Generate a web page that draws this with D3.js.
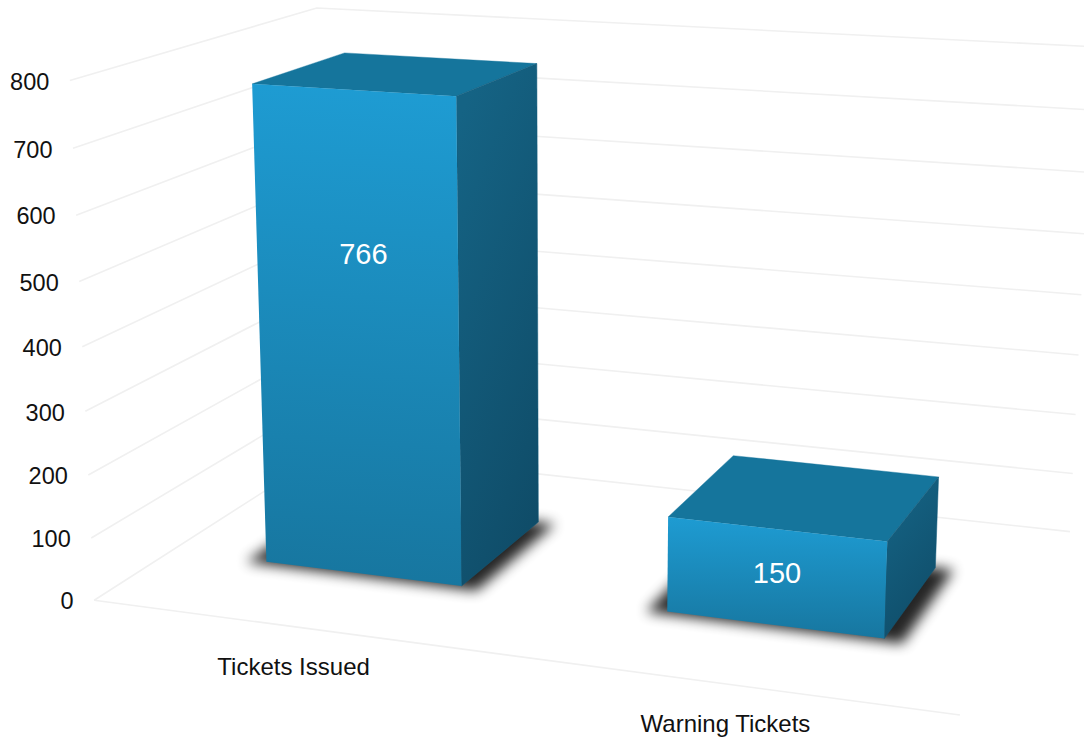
<!DOCTYPE html><html><head><meta charset="utf-8"><script src="https://cdn.jsdelivr.net/npm/d3@7"></script>
<style>html,body{margin:0;background:#fff}svg{display:block}text{font-family:"Liberation Sans",Arial,sans-serif}</style></head><body><div id="chart"></div><script>
const categories=["Tickets Issued","Warning Tickets"];
const values=[766,150];
const tickValues=[0,100,200,300,400,500,600,700,800];
const labelLevels=[515,82];
const labelBandShare=[.536,.508];

// Pinhole camera: (band position, height share, depth, 1) -> screen
const camera=[
 [763.742548,-27.721254,292.395085,94.174476],
 [38.816035,-523.658943,-67.443878,600.224438],
 [-0.106285,-0.048404,0.181384,1]];

const W=1084,H=742;
const svg=d3.select("#chart").append("svg").attr("width",W).attr("height",H);
const u=d3.scaleBand().domain(categories).range([0,1]).paddingInner(.5).paddingOuter(.25);
const v=d3.scaleLinear().domain([0,800]).range([0,1]);
const depth={front:.3,back:.7};
const project=(a,val,c)=>{const q=camera.map(r=>r[0]*a+r[1]*v(val)+r[2]*c+r[3]);return [q[0]/q[2],q[1]/q[2]];};
const line=d3.line();
const defs=svg.append("defs");
const grad=(id,x1,y1,x2,y2,c1,c2)=>{const g=defs.append("linearGradient").attr("id",id).attr("x1",x1).attr("y1",y1).attr("x2",x2).attr("y2",y2);
 g.append("stop").attr("offset",0).attr("stop-color",c1);g.append("stop").attr("offset",1).attr("stop-color",c2);};
grad("front",.5,0,.47,1,"#1e9cd3","#17769f");
grad("side",.3,0,.7,1,"#156384","#0f4c68");
defs.append("filter").attr("id","blur").attr("x","-30%").attr("y","-60%").attr("width","160%").attr("height","220%").append("feGaussianBlur").attr("stdDeviation",6.5);

// grid
const grid=svg.append("g").attr("fill","none").attr("stroke","#f0f0f0").attr("stroke-width",1.6);
tickValues.forEach(t=>grid.append("path").attr("d",line([project(0,t,0),project(0,t,1),project(1,t,1)])));
grid.append("path").attr("d",line([project(0,0,0),project(1,0,0)]));
// ticks
svg.append("g").attr("font-size",23.5).attr("fill","#111").attr("text-anchor","end").selectAll("text").data(tickValues).join("text")
 .attr("x",d=>project(0,d,0)[0]-20.5).attr("y",d=>project(0,d,0)[1]+9.2).text(d=>d);
// categories
svg.append("g").attr("font-size",24).attr("fill","#111").attr("text-anchor","middle").selectAll("text").data(categories).join("text")
 .attr("x",d=>project(u(d)+u.bandwidth()/2,0,0)[0]+.7).attr("y",d=>project(u(d)+u.bandwidth()/2,0,0)[1]+48.3).text(d=>d);
// bars
categories.forEach((cat,i)=>{
 const a=u(cat),e=a+u.bandwidth(),f=depth.front,k=depth.back,h=values[i];
 const poly=pts=>line(pts)+"Z";
 svg.append("path").attr("d",poly([project(a-.022,0,f-.014),project(e+.022,0,f-.014),project(e+.022,0,k),project(a-.022,0,k)])).attr("fill","#000").attr("opacity",.85).attr("filter","url(#blur)");
 svg.append("path").attr("d",poly([project(a,h,f),project(a,h,k),project(e,h,k),project(e,h,f)])).attr("fill","#15759c").attr("stroke","#15759c").attr("stroke-width",.4);
 svg.append("path").attr("d",poly([project(e,h,f),project(e,h,k),project(e,0,k),project(e,0,f)])).attr("fill","url(#side)").attr("stroke","#125a7a").attr("stroke-width",.5);
 svg.append("path").attr("d",poly([project(a,h,f),project(e,h,f),project(e,0,f),project(a,0,f)])).attr("fill","url(#front)");
 const c=project(a+labelBandShare[i]*u.bandwidth(),labelLevels[i],f);
 svg.append("text").attr("x",c[0]).attr("y",c[1]).attr("dy",".35em").attr("text-anchor","middle").attr("font-size",29).attr("fill","#fff").text(h);
});
</script></body></html>
